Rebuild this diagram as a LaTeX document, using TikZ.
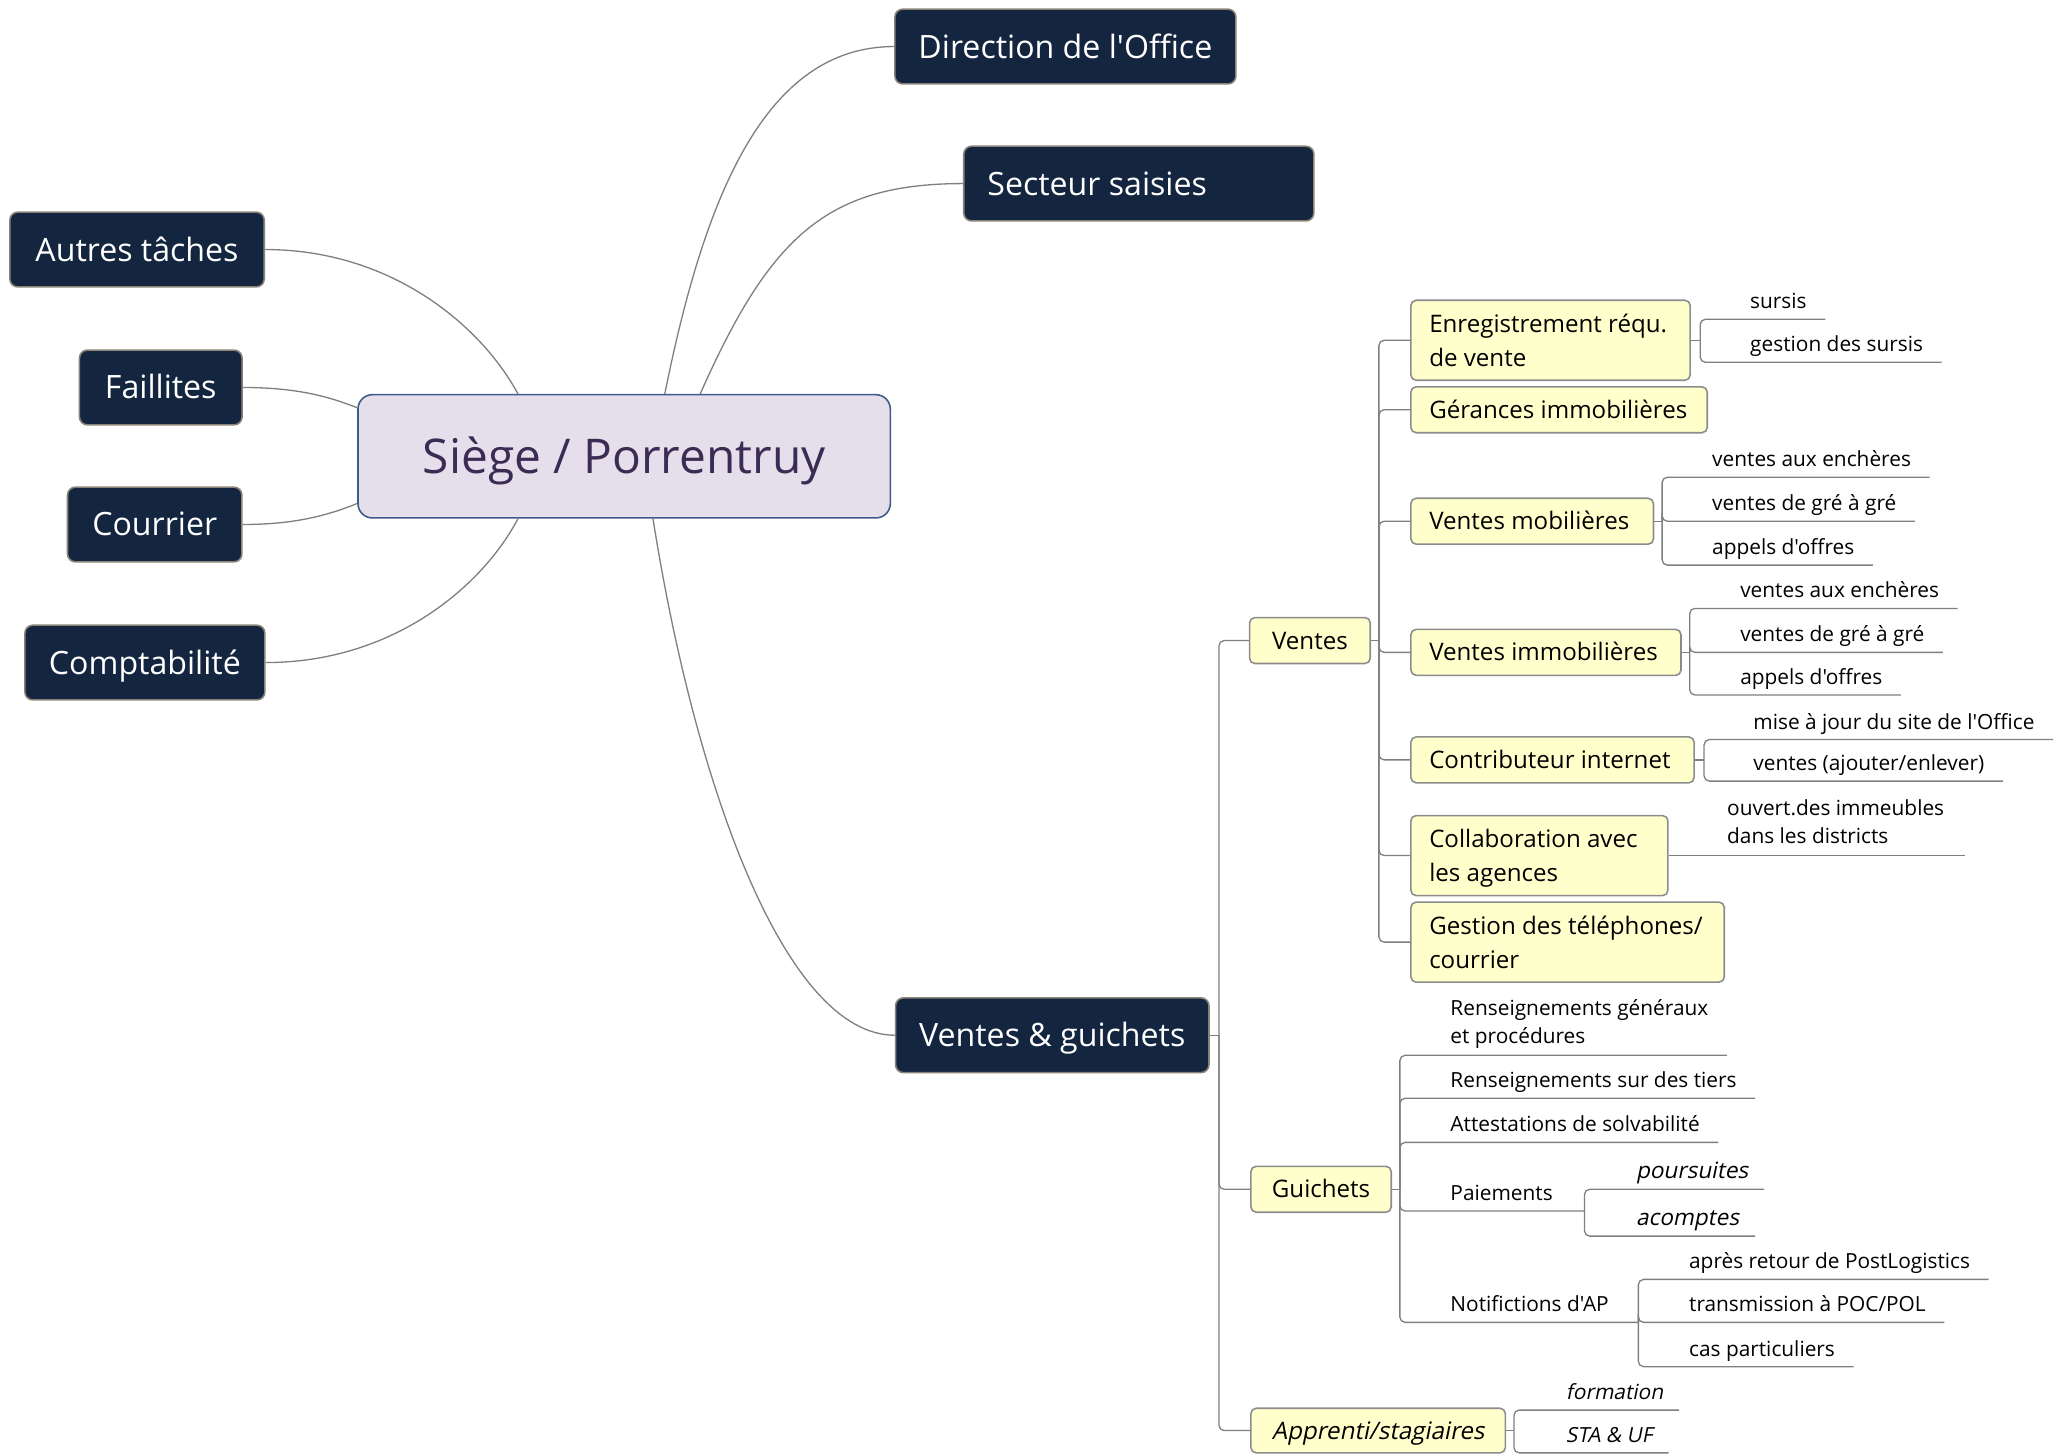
\documentclass[tikz,border=0pt]{standalone}
\usepackage{fontspec}
\setmainfont{Open Sans}
\newfontfamily\osans{Open Sans}
\newfontfamily\osslant{Open Sans}[FakeSlant=0.2]
\usetikzlibrary{calc}
\definecolor{navy}{HTML}{13253F}
\definecolor{navyline}{HTML}{8A8379}
\definecolor{lav}{HTML}{E5DFEC}
\definecolor{lavline}{HTML}{3E5A8B}
\definecolor{purp}{HTML}{3B2C54}
\definecolor{yel}{HTML}{FFFFCC}
\definecolor{yelline}{HTML}{8C8C8C}
\definecolor{conncol}{HTML}{7F7F7F}
\newcommand{\ybox}[2]{\makebox[#1][l]{#2}}
\newcommand{\ytwo}[3]{\makebox[#1][l]{\begin{tabular}[b]{@{}l@{}}#2\\#3\end{tabular}}}
\tikzset{
 mainbox/.style={fill=lav, draw=lavline, line width=1.2pt, rounded corners=11pt, text=purp,
   font=\osans\fontsize{36.5}{44}\selectfont, minimum width=406pt, minimum height=94pt, inner sep=0pt,
   text height=26pt, text depth=0pt},
 topic/.style={fill=navy, draw=navyline, line width=1.2pt, rounded corners=6pt, text=white,
   font=\osans\fontsize{24.5}{30}\selectfont, minimum height=57pt, inner xsep=18pt, inner ysep=0pt,
   text height=17.5pt, text depth=0pt},
 subtopic/.style={fill=yel, draw=yelline, line width=1.2pt, rounded corners=4pt, text=black,
   font=\osans\fontsize{18.4}{26}\selectfont, inner xsep=14pt, inner ysep=0pt, minimum height=35pt},
 oneline/.style={text height=13.1pt, text depth=0pt},
 twoline/.style={text depth=4pt, minimum height=61pt},
 leaf/.style={font=\osans\fontsize{15.9}{21.7}\selectfont, inner sep=0pt, anchor=base west},
 slantleaf/.style={leaf, font=\osslant\fontsize{15.9}{21.7}\selectfont},
 bigslantleaf/.style={leaf, font=\osslant\fontsize{17.2}{21.7}\selectfont},
 conn/.style={draw=conncol, line width=1pt},
 bconn/.style={draw=conncol, line width=1pt, rounded corners=4pt},
}
\begin{document}
\begin{tikzpicture}[x=1pt,y=-1pt]
\useasboundingbox (0,0) rectangle (1568,1109);

% ---------- central and main topics ----------
\node[mainbox] (root) at (476,348) {Siège / Porrentruy};
\node[topic, minimum width=259pt] (dir) at (812.5,35.5) {Direction de l'Office};
\node[topic, minimum width=267pt] (sec) at (868.5,140) {\makebox[231pt][l]{Secteur saisies}};
\node[topic, minimum width=194pt] (aut) at (104.5,190.3) {Autres tâches};
\node[topic, minimum width=124pt] (fai) at (122.6,295.5) {Faillites};
\node[topic, minimum width=133pt] (cou) at (118,400) {Courrier};
\node[topic, minimum width=183pt] (com) at (110.5,505.3) {Comptabilité};
\node[topic, minimum width=239pt] (vg) at (802.5,789.5) {Ventes \& guichets};

\draw[conn] ($(root.north)+(31,0)$) .. controls (537,151) and (583,35.5) .. (dir.west);
\draw[conn] ($(root.north)+(58,0)$) .. controls (587,181) and (630,140) .. (sec.west);
\draw[conn] (aut.east) .. controls (300,190.3) and (368,250) .. ($(root.north)+(-81,0)$);
\draw[conn] (fai.east) .. controls (225,295.5) and (250,302) .. ($(root.west)+(0,-37)$);
\draw[conn] (cou.east) .. controls (225,400) and (250,393) .. ($(root.west)+(0,36)$);
\draw[conn] (com.east) .. controls (300,505.3) and (368,447) .. ($(root.south)+(-81,0)$);
\draw[conn] ($(root.south)+(22,0)$) .. controls (531,604) and (600,789.5) .. (vg.west);

% ---------- Ventes & guichets children ----------
\node[subtopic, oneline, minimum width=92pt] (ven) at (999,488.5) {Ventes};
\node[subtopic, oneline, minimum width=107pt] (gui) at (1007.5,907) {Guichets};
\node[subtopic, oneline, minimum width=194pt, minimum height=34pt, font=\osslant\fontsize{18.4}{26}\selectfont] (app) at (1051,1091) {Apprenti/stagiaires};

\coordinate (vgb) at ($(vg.east)+(7,0)$);
\draw[conn] (vg.east) -- (vgb);
\draw[bconn] (vgb) |- (ven.west);
\draw[bconn] (vgb) |- (gui.west);
\draw[bconn] (vgb) |- (app.west);

% ---------- Ventes children ----------
\node[subtopic, twoline, minimum width=213pt] (enr) at (1182.5,259.5) {\ytwo{185pt}{Enregistrement réqu.}{de vente}};
\node[subtopic, oneline, minimum width=226pt] (ger) at (1189,312.5) {\ybox{198pt}{Gérances immobilières}};
\node[subtopic, oneline, minimum width=185pt] (vmo) at (1168.5,397.5) {\ybox{157pt}{Ventes mobilières}};
\node[subtopic, oneline, minimum width=206pt] (vim) at (1179,497.5) {\ybox{178pt}{Ventes immobilières}};
\node[subtopic, oneline, minimum width=216pt] (cti) at (1184,579.5) {\ybox{188pt}{Contributeur internet}};
\node[subtopic, twoline, minimum width=196pt] (col) at (1174,652.5) {\ytwo{168pt}{Collaboration avec}{les agences}};
\node[subtopic, twoline, minimum width=239pt] (ges) at (1195.5,718.5) {\ytwo{211pt}{Gestion des téléphones/}{courrier}};

\coordinate (venb) at ($(ven.east)+(6,0)$);
\draw[conn] (ven.east) -- (venb);
\foreach \c in {enr,ger,vmo,vim,cti,col,ges}{
  \draw[bconn] (venb) |- (\c.west);
}

% ---------- Enregistrement leaves ----------
\node[leaf] (sur) at (1334.6,235.5) {sursis};
\node[leaf] (gsur) at (1334.6,268.3) {gestion des sursis};
\coordinate (enrb) at ($(enr.east)+(7,0)$);
\draw[conn] (enr.east) -- (enrb);
\draw[bconn] (enrb) |- ($(sur.base east)+(14,8)$);
\draw[bconn] (enrb) |- ($(gsur.base east)+(14,8)$);

% ---------- Ventes mobilieres leaves ----------
\node[leaf] (vmoa) at (1305.6,356) {ventes aux enchères};
\node[leaf] (vmob) at (1305.6,389.5) {ventes de gré à gré};
\node[leaf] (vmoc) at (1305.6,423) {appels d'offres};
\coordinate (vmobr) at ($(vmo.east)+(6,0)$);
\draw[conn] (vmo.east) -- (vmobr);
\draw[bconn] (vmobr) |- ($(vmoa.base east)+(14,8)$);
\draw[bconn] (vmobr) |- ($(vmob.base east)+(14,8)$);
\draw[bconn] (vmobr) |- ($(vmoc.base east)+(14,8)$);

% ---------- Ventes immobilieres leaves ----------
\node[leaf] (vima) at (1327,456) {ventes aux enchères};
\node[leaf] (vimb) at (1327,489.5) {ventes de gré à gré};
\node[leaf] (vimc) at (1327,522) {appels d'offres};
\coordinate (vimbr) at ($(vim.east)+(6,0)$);
\draw[conn] (vim.east) -- (vimbr);
\draw[bconn] (vimbr) |- ($(vima.base east)+(14,8)$);
\draw[bconn] (vimbr) |- ($(vimb.base east)+(14,8)$);
\draw[bconn] (vimbr) |- ($(vimc.base east)+(14,8)$);

% ---------- Contributeur internet leaves ----------
\node[leaf] (ctia) at (1337,556) {mise à jour du site de l'Office};
\node[leaf] (ctib) at (1337,587.7) {ventes (ajouter/enlever)};
\coordinate (ctibr) at ($(cti.east)+(7,0)$);
\draw[conn] (cti.east) -- (ctibr);
\draw[bconn] (ctibr) |- ($(ctia.base east)+(14,8)$);
\draw[bconn] (ctibr) |- ($(ctib.base east)+(14,8)$);

% ---------- Collaboration leaf ----------
\node[leaf] (ouv) at (1317,643.5) {\begin{tabular}[b]{@{}l@{}}ouvert.des immeubles\\dans les districts\end{tabular}};
\draw[conn] (col.east) -- ($(col.east -| ouv.east)+(16,0)$);

% ---------- Guichets leaves ----------
\node[leaf] (rg) at (1106,795.8) {\begin{tabular}[b]{@{}l@{}}Renseignements généraux\\et procédures\end{tabular}};
\node[leaf] (rt) at (1106,829.6) {Renseignements sur des tiers};
\node[leaf] (att) at (1106,863.2) {Attestations de solvabilité};
\node[leaf] (pai) at (1106,915.6) {Paiements};
\node[leaf] (notif) at (1106,1000.5) {Notifictions d'AP};
\coordinate (guib) at ($(gui.east)+(6,0)$);
\coordinate (paib) at (1208.4,923.6);
\coordinate (notb) at (1249.5,1008.5);
\draw[conn] (gui.east) -- (guib);
\draw[bconn] (guib) |- ($(rg.base east)+(14,9)$);
\draw[bconn] (guib) |- ($(rt.base east)+(14,8)$);
\draw[bconn] (guib) |- ($(att.base east)+(14,8)$);
\draw[bconn] (guib) |- (paib);
\draw[bconn] (guib) |- (notb);

\node[bigslantleaf] (pours) at (1247.5,899) {poursuites};
\node[bigslantleaf] (acomp) at (1247.5,934.7) {acomptes};
\draw[bconn] (paib) |- ($(pours.base east)+(12,8)$);
\draw[bconn] (paib) |- ($(acomp.base east)+(12,8)$);

\node[leaf] (apr) at (1288,967.7) {après retour de PostLogistics};
\node[leaf] (trans) at (1288,1000.5) {transmission à POC/POL};
\node[leaf] (cas) at (1288,1034.3) {cas particuliers};
\draw[bconn] (notb) |- ($(apr.base east)+(14,8)$);
\draw[bconn] (notb) |- ($(trans.base east)+(14,8)$);
\draw[bconn] (notb) |- ($(cas.base east)+(14,8)$);

% ---------- Apprenti leaves ----------
\node[slantleaf] (form) at (1194,1067.4) {formation};
\node[slantleaf] (sta) at (1194,1100) {STA \& UF};
\coordinate (appb) at ($(app.east)+(6,0)$);
\draw[conn] (app.east) -- (appb);
\draw[bconn] (appb) |- ($(form.base east)+(12,8)$);
\draw[bconn] (appb) |- ($(sta.base east)+(12,8)$);
\end{tikzpicture}
\end{document}
